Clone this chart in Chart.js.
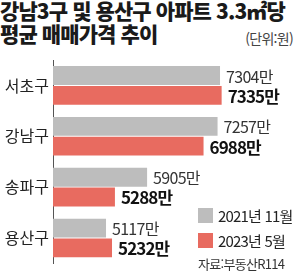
<!DOCTYPE html>
<html lang="ko">
<head>
<meta charset="utf-8">
<script src="https://cdn.jsdelivr.net/npm/chart.js@4"></script>
<style>
  html, body { margin: 0; padding: 0; background: #fff; }
  #wrap { position: relative; width: 298px; height: 277px; overflow: hidden; font-family: "Noto Sans CJK KR", "Noto Sans", sans-serif; }
  #title1, #title2 { position: absolute; left: 0; font-weight: 900; font-size: 21px; color: #1a1a1a; letter-spacing: -0.9px; line-height: 1; white-space: nowrap; }
  #title1 { top: 0px; }
  #title2 { top: 23px; }
  #unit { position: absolute; right: 5px; top: 28px; font-size: 14px; color: #444; letter-spacing: -0.7px; }
  #legend { position: absolute; left: 198px; top: 203px; font-size: 15px; color: #222; letter-spacing: -0.8px; }
  .item { height: 25px; display: flex; align-items: center; }
  .box { width: 15px; height: 15px; margin-right: 5px; }
  #source { position: absolute; left: 198px; top: 254px; font-size: 13px; color: #333; letter-spacing: -0.7px; }
  canvas { position: absolute; left: 0; top: 0; }
</style>
</head>
<body>
<div id="wrap">
  <div id="title1">강남3구 및 용산구 아파트 3.3㎡당</div>
  <div id="title2">평균 매매가격 추이</div>
  <div id="unit">(단위:원)</div>
  <canvas id="myChart" width="298" height="277"></canvas>
  <div id="legend"></div>
  <div id="source">자료:부동산R114</div>
</div>
<script>
// 데이터
const districts = ['서초구', '강남구', '송파구', '용산구'];
const seriesNames = ['2021년 11월', '2023년 5월'];
const prices2021 = [7304, 7257, 5905, 5117];
const prices2023 = [7335, 6988, 5288, 5232];
const unitSuffix = '만';

const colors = ['#bdbdbd', '#e86b60'];

// 막대 끝에 값 표시
const valueLabels = {
    id: 'valueLabels',
    afterDatasetsDraw(chart) {
        const ctx = chart.ctx;
        ctx.save();
        ctx.textBaseline = 'middle';
        ctx.textAlign = 'left';
        chart.data.datasets.forEach((ds, i) => {
            const meta = chart.getDatasetMeta(i);
            meta.data.forEach((bar, j) => {
                if (i === 0) {
                    ctx.font = '16px "Noto Sans CJK KR"';
                    ctx.fillStyle = '#333';
                    ctx.letterSpacing = '-0.7px';
                } else {
                    ctx.font = 'bold 17px "Noto Sans CJK KR"';
                    ctx.fillStyle = '#111';
                    ctx.letterSpacing = '-0.9px';
                }
                ctx.fillText(ds.data[j] + unitSuffix, bar.x + 6, bar.y + 1);
            });
        });
        ctx.restore();
    }
};

new Chart(document.querySelector('#myChart'), {
    type: 'bar',
    data: {
        labels: districts,
        datasets: [
            { label: seriesNames[0], data: prices2021, backgroundColor: colors[0] },
            { label: seriesNames[1], data: prices2023, backgroundColor: colors[1] }
        ]
    },
    options: {
        indexAxis: 'y',
        responsive: false,
        animation: false,
        categoryPercentage: 0.78,
        barPercentage: 0.95,
        layout: { padding: { top: 60, left: 0, right: 0, bottom: 0 } },
        scales: {
            x: { display: false, min: 4100, max: 8800 },
            y: {
                grid: { display: false, drawTicks: false },
                border: { display: true, color: '#555', width: 1 },
                ticks: {
                    color: '#222',
                    padding: 4,
                    font: { family: 'Noto Sans CJK KR', size: 16 }
                },
                afterFit(scale) { scale.width = 53; }
            }
        },
        plugins: {
            legend: { display: false },
            tooltip: { enabled: false }
        }
    },
    plugins: [valueLabels]
});

// 범례
const legend = document.querySelector('#legend');
seriesNames.forEach((name, i) => {
    const item = document.createElement('div');
    item.className = 'item';
    const box = document.createElement('div');
    box.className = 'box';
    box.style.background = colors[i];
    const txt = document.createElement('span');
    txt.textContent = name;
    item.appendChild(box);
    item.appendChild(txt);
    legend.appendChild(item);
});
</script>
</body>
</html>
